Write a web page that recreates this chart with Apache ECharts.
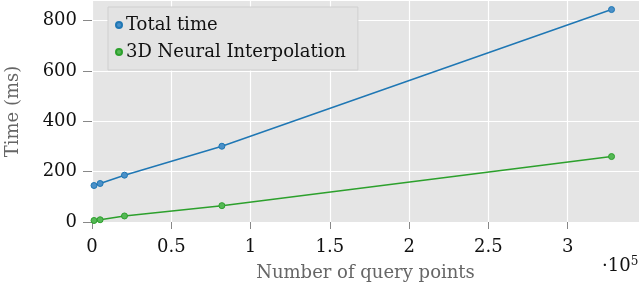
<!DOCTYPE html>
<html><head><meta charset="utf-8">
<script src="https://cdn.jsdelivr.net/npm/echarts@6/dist/echarts.min.js"></script>
<style>html,body{margin:0;padding:0;background:#fff}#c{width:640px;height:284px}</style>
</head><body><div id="c"></div>
<script>
const queryPoints = [1280, 5120, 20480, 81920, 327680];
const totalTime = [145, 153, 186, 301, 844];
const neuralTime = [6, 9, 24, 65, 260];
const xTicks = [0, 0.5, 1, 1.5, 2, 2.5, 3];
const yTicks = [0, 200, 400, 600, 800];
const seriesNames = ['Total time', '3D Neural Interpolation'];
const xScale = 1e5;

const FONT = 'DejaVu Serif';
const FS = 18;
const chart = echarts.init(document.getElementById('c'), null, {renderer: 'canvas'});
const mk = (arr) => queryPoints.map((q, i) => [q / xScale, arr[i]]);
const colors = ['#1f77b4', '#2ca02c'];
chart.setOption({
  animation: false,
  backgroundColor: '#fff',
  grid: {left: 92, right: 1, top: 1, bottom: 62, containLabel: false, outerBoundsMode: 'none',
         show: true, backgroundColor: '#e5e5e5', borderWidth: 0},
  legend: {
    left: 108, top: 7, orient: 'vertical',
    padding: [9, 12, 9, 7], itemGap: 9,
    backgroundColor: '#e3e3e3', borderColor: '#cfcfcf', borderWidth: 1,
    icon: 'circle', itemWidth: 6, itemHeight: 6,
    textStyle: {fontFamily: FONT, fontSize: FS, lineHeight: 18, color: '#111', padding: [0,0,0,-1]},
    data: seriesNames
  },
  xAxis: {
    type: 'value', min: 0, max: 3.45, interval: 0.5,
    name: 'Number of query points', nameLocation: 'middle', nameGap: 42,
    nameTextStyle: {fontFamily: FONT, fontSize: FS, color: '#666'},
    axisLine: {show: false},
    axisTick: {show: true, length: 7, inside: false, lineStyle: {color: '#888'}, customValues: xTicks},
    axisLabel: {fontFamily: FONT, fontSize: FS, color: '#111', margin: 16, customValues: xTicks, formatter: v => String(v)},
    splitLine: {show: true, lineStyle: {color: '#fff', width: 1.2}}
  },
  yAxis: {
    type: 'value', min: 0, max: 878, interval: 200,
    name: 'Time (ms)', nameLocation: 'middle', nameGap: 70, nameRotate: 90,
    nameTextStyle: {fontFamily: FONT, fontSize: FS, color: '#666'},
    axisLine: {show: false},
    axisTick: {show: true, length: 9, lineStyle: {color: '#888'}, customValues: yTicks},
    axisLabel: {fontFamily: FONT, fontSize: FS, color: '#111', margin: 15, customValues: yTicks},
    splitLine: {show: true, lineStyle: {color: '#fff', width: 1.2}}
  },
  series: [
    {name: seriesNames[0], type: 'line', data: mk(totalTime), symbol: 'circle', symbolSize: 6,
     lineStyle: {color: colors[0], width: 1.5}, itemStyle: {color: '#4a90c8', borderColor: colors[0], borderWidth: 1}},
    {name: seriesNames[1], type: 'line', data: mk(neuralTime), symbol: 'circle', symbolSize: 6,
     lineStyle: {color: colors[1], width: 1.5}, itemStyle: {color: '#55b855', borderColor: colors[1], borderWidth: 1}}
  ],
  graphic: [{
    type: 'text', left: 602, top: 256,
    style: {
      text: '·10{s|5}', fontFamily: FONT, fontSize: FS, fill: '#111',
      rich: {s: {fontFamily: FONT, fontSize: 12, fill: '#111', verticalAlign: 'top', padding: [0,0,8,0]}}
    }
  }]
});
</script></body></html>
